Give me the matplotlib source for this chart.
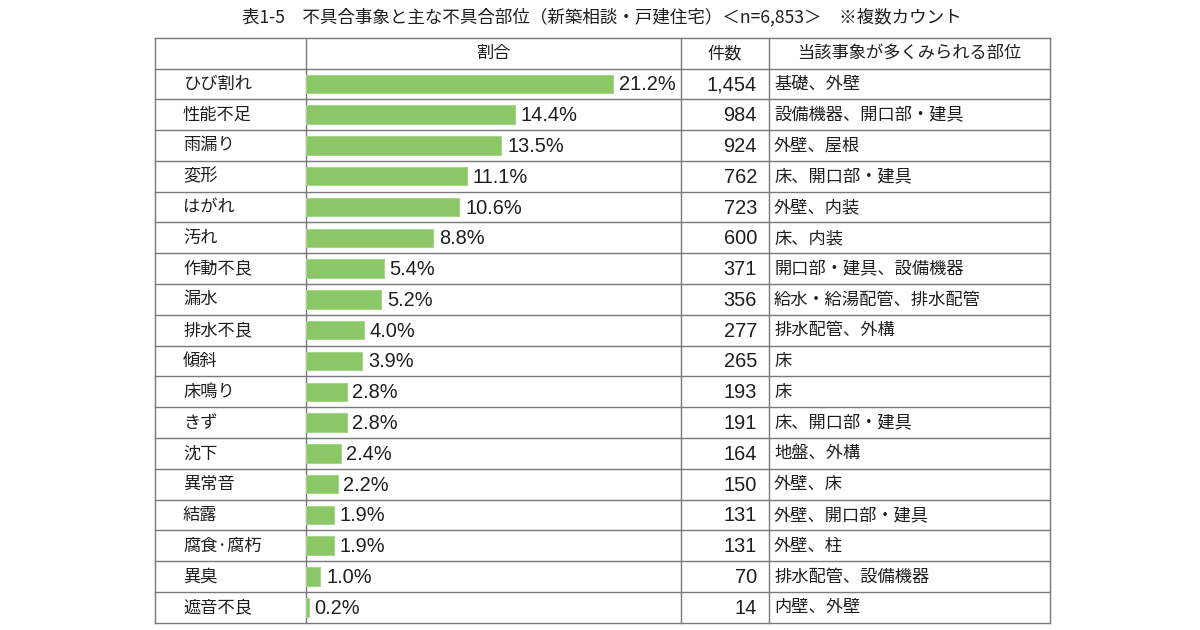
import matplotlib.pyplot as plt

plt.rcParams['font.family'] = ['Liberation Sans', 'Noto Sans CJK JP', 'DejaVu Sans']

# ---- data ----
title = '表1-5　不具合事象と主な不具合部位（新築相談・戸建住宅）＜n=6,853＞　※複数カウント'
headers = ['割合', '件数', '当該事象が多くみられる部位']
events = ['ひび割れ', '性能不足', '雨漏り', '変形', 'はがれ', '汚れ', '作動不良', '漏水',
          '排水不良', '傾斜', '床鳴り', 'きず', '沈下', '異常音', '結露', '腐食·腐朽',
          '異臭', '遮音不良']
shares = [21.2, 14.4, 13.5, 11.1, 10.6, 8.8, 5.4, 5.2, 4.0, 3.9, 2.8, 2.8, 2.4, 2.2,
          1.9, 1.9, 1.0, 0.2]
counts = [1454, 984, 924, 762, 723, 600, 371, 356, 277, 265, 193, 191, 164, 150,
          131, 131, 70, 14]
parts = ['基礎、外壁', '設備機器、開口部・建具', '外壁、屋根', '床、開口部・建具', '外壁、内装',
         '床、内装', '開口部・建具、設備機器', '給水・給湯配管、排水配管', '排水配管、外構',
         '床', '床', '床、開口部・建具', '地盤、外構', '外壁、床', '外壁、開口部・建具',
         '外壁、柱', '排水配管、設備機器', '内壁、外壁']

# ---- layout (pixels) ----
W, H = 1200, 630
x_cols = [155, 306, 681, 769, 1050]
y_top, y_head = 37.5, 68.5
row_h = (622.7 - y_head) / len(events)
y_bot = y_head + row_h * len(events)
txt = '#1e1e1e'
line_c = '#7a7a7a'
fs = 12.4      # japanese text
fs_num = 14.4  # numbers

fig = plt.figure(figsize=(W / 100, H / 100), dpi=100)
ax = fig.add_axes([0, 0, 1, 1])
ax.set_xlim(0, W)
ax.set_ylim(H, 0)
ax.axis('off')

ax.text(602, 17, title, ha='center', va='center', fontsize=12.6, color=txt,
        family=['Noto Sans CJK JP', 'DejaVu Sans'])

# grid lines
for x in x_cols:
    ax.plot([x, x], [y_top, y_bot], color=line_c, lw=1)
ax.plot([x_cols[0], x_cols[-1]], [y_top, y_top], color=line_c, lw=1)
for i in range(len(events) + 1):
    y = y_head + i * row_h
    ax.plot([x_cols[0], x_cols[-1]], [y, y], color=line_c, lw=1)

# header
hy = (y_top + y_head) / 2
for k, h in enumerate(headers):
    ax.text((x_cols[k + 1] + x_cols[k + 2]) / 2, hy, h, ha='center', va='center',
            fontsize=fs, color=txt, family=['Noto Sans CJK JP'])

# rows
for i, (ev, c, p) in enumerate(zip(events, counts, parts)):
    y = y_head + (i + 0.5) * row_h
    ax.text(183, y, ev, ha='left', va='center', fontsize=fs, color=txt,
            family=['Noto Sans CJK JP'])
    ax.text(757, y + 1, f'{c:,}', ha='right', va='center', fontsize=fs_num, color=txt)
    ax.text(774, y, p, ha='left', va='center', fontsize=fs, color=txt,
            family=['Noto Sans CJK JP'])

# bar column
bx = fig.add_axes([x_cols[1] / W, 1 - y_bot / H, (x_cols[2] - x_cols[1]) / W,
                   (y_bot - y_head) / H])
bx.set_xlim(0, (x_cols[2] - x_cols[1]) / 14.48)
bx.set_ylim(len(events) - 0.5, -0.5)
bx.axis('off')
bx.patch.set_alpha(0)
pos = list(range(len(events)))
bx.barh(pos, shares, height=0.6, color='#8bc766', edgecolor='#a6d68a', lw=0.8)
for i, v in enumerate(shares):
    bx.annotate(f'{v:.1f}%', (v, i), xytext=(4, -0.7), textcoords='offset points',
                ha='left', va='center', fontsize=fs_num, color=txt)

fig.savefig('out.png', dpi=100)
